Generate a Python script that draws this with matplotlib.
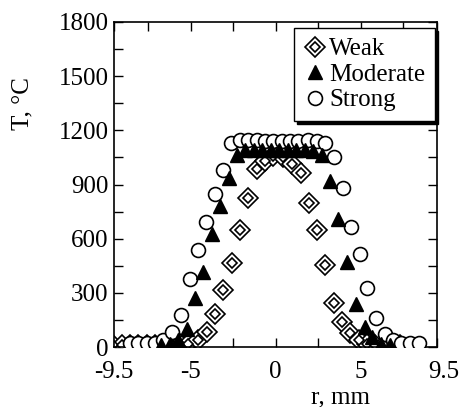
import numpy as np
import matplotlib
matplotlib.use('Agg')
import matplotlib.pyplot as plt
from matplotlib.ticker import FixedLocator, NullFormatter
from matplotlib.transforms import ScaledTranslation

plt.rcParams['font.family'] = ['Liberation Serif', 'DejaVu Serif']

# radial temperature profiles, r in mm, T in deg C
weak_r = [-9.54, -9.05, -8.56, -8.07, -7.58, -7.09, -6.60, -6.11, -5.62, -5.13,
          -4.55, -4.04, -3.57, -3.06, -2.57, -2.08, -1.59, -1.10, -0.61, -0.12,
          0.43, 0.96, 1.49, 1.96, 2.43, 2.92, 3.45, 3.90, 4.39, 4.88,
          5.37, 5.86, 6.35, 6.84, 7.33]
weak_T = [12, 12, 12, 12, 12, 12, 12, 12, 15, 20,
          39, 85, 183, 316, 467, 648, 826, 985, 1030, 1060,
          1054, 1015, 965, 798, 648, 454, 245, 140, 76, 39,
          20, 12, 12, 12, 12]

moderate_r = [-6.72, -6.22, -5.72, -5.22, -4.74, -4.24, -3.75, -3.25, -2.76, -2.27,
              -1.77, -1.27, -0.77, -0.27, 0.23, 0.73, 1.23, 1.73, 2.22, 2.72,
              3.22, 3.70, 4.22, 4.73, 5.24, 5.70, 6.22, 6.72]
moderate_T = [12, 15, 40, 103, 270, 415, 625, 784, 937, 1063,
              1090, 1092, 1093, 1093, 1093, 1093, 1092, 1090, 1088, 1063,
              920, 712, 472, 237, 113, 57, 20, 12]

strong_r = [-8.55, -8.06, -7.57, -7.08, -6.59, -6.10, -5.55, -5.02, -4.53, -4.06,
            -3.55, -3.06, -2.60, -2.08, -1.59, -1.10, -0.61, -0.12, 0.37, 0.86,
            1.35, 1.90, 2.43, 2.92, 3.41, 3.94, 4.45, 4.98, 5.37, 5.90,
            6.41, 6.88, 7.39, 7.92, 8.41]
strong_T = [22, 22, 22, 25, 40, 85, 180, 380, 540, 694,
            847, 980, 1130, 1145, 1145, 1145, 1142, 1140, 1142, 1142,
            1142, 1148, 1142, 1128, 1050, 879, 666, 515, 325, 159,
            72, 39, 25, 25, 25]

x_ticks = [-9.5, -5, 0, 5, 9.5]
x_labels = ['-9.5', '-5', '0', '5', '9.5']
y_ticks = [0, 300, 600, 900, 1200, 1500, 1800]

fig = plt.figure(figsize=(4.71, 4.07), dpi=100)
ax = fig.add_axes([0.242, 0.147, 0.686, 0.799])

w_out, = ax.plot(weak_r, weak_T, ls='none', marker='D', ms=10, mfc='white',
                 mec='black', mew=1.2, zorder=2)
w_in, = ax.plot(weak_r, weak_T, ls='none', marker='D', ms=4.8, mfc='white',
                mec='black', mew=1.2, zorder=2)
s_pts, = ax.plot(strong_r, strong_T, ls='none', marker='o', ms=10, mfc='white',
                 mec='black', mew=1.2, zorder=3)
m_pts, = ax.plot(moderate_r, moderate_T, ls='none', marker='^', ms=9.5, mfc='black',
                 mec='black', zorder=4)

ax.set_xlim(-9.5, 9.5)
ax.set_ylim(0, 1800)
ax.set_xticks(x_ticks)
ax.set_xticklabels(x_labels)
ax.set_yticks(y_ticks)
ax.xaxis.set_minor_locator(FixedLocator([-7.5, -2.5, 2.5, 7.5]))
ax.yaxis.set_minor_locator(FixedLocator(np.arange(150, 1800, 300)))
ax.xaxis.set_minor_formatter(NullFormatter())
ax.yaxis.set_minor_formatter(NullFormatter())
ax.tick_params(which='both', direction='in', top=True, right=True,
               length=6.5, width=1, labelsize=18)
ax.tick_params(axis='x', pad=10)
ax.tick_params(axis='y', pad=4)
for sp in ax.spines.values():
    sp.set_linewidth(1.2)

# last r label sits a little to the right of its tick
last = ax.get_xticklabels()[-1]
last.set_transform(last.get_transform() + ScaledTranslation(7 / 100, 0, fig.dpi_scale_trans))

ax.set_xlabel('r, mm', fontsize=18)
ax.xaxis.set_label_coords(0.70, -0.12)
ax.set_ylabel('T, °C', fontsize=18)
ax.yaxis.set_label_coords(-0.25, 0.75)

leg = ax.legend([(w_out, w_in), m_pts, s_pts], ['Weak', 'Moderate', 'Strong'],
                loc='upper right', bbox_to_anchor=(0.994, 0.982), borderaxespad=0,
                fontsize=18, frameon=True, fancybox=False,
                shadow={'ox': 2, 'oy': -2, 'color': 'black', 'alpha': 1},
                handlelength=0.9, handletextpad=0.1, labelspacing=0.12,
                borderpad=0.4, framealpha=1)
leg.get_frame().set_edgecolor('black')
leg.get_frame().set_linewidth(1)

fig.savefig('out.png', dpi=100)
